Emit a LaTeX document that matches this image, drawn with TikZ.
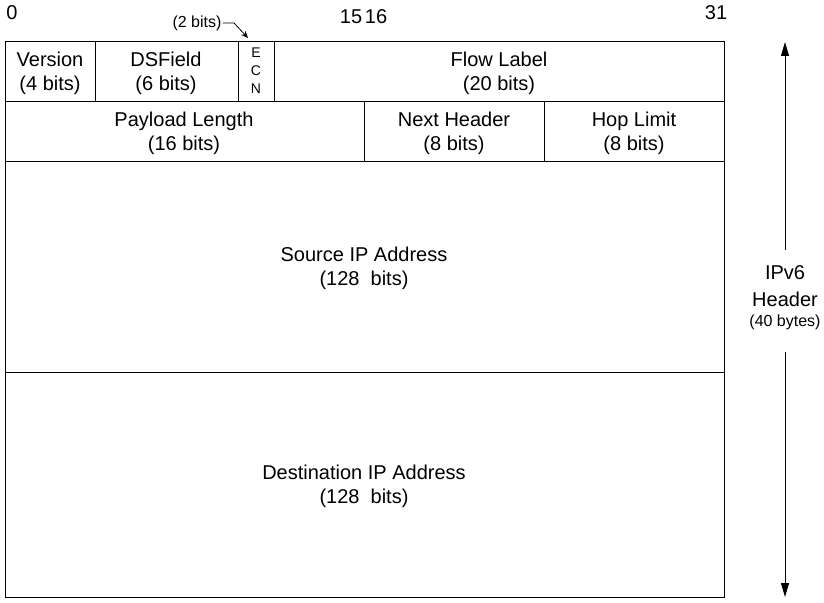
\documentclass[tikz,border=0pt]{standalone}
\usepackage{fontspec}
\setmainfont{Liberation Sans}
\usetikzlibrary{arrows.meta}
\tikzset{
  lbl/.style={align=center, inner sep=1pt, font=\fontsize{20}{24}\selectfont},
  small/.style={inner sep=1pt, font=\fontsize{16}{18}\selectfont},
  tiny/.style={inner sep=0pt, font=\fontsize{14}{18}\selectfont, align=center},
  frame/.style={line width=1pt},
}
\begin{document}
\begin{tikzpicture}[x=1pt,y=-1pt]
\useasboundingbox (0,0) rectangle (824,602);
% boxes
\draw[frame] (5,42) rectangle (724,597);
\draw[frame] (5,101) -- (724,101);
\draw[frame] (5,161) -- (724,161);
\draw[frame] (5,372) -- (724,372);
\draw[frame] (95,42) -- (95,101);
\draw[frame] (238,42) -- (238,101);
\draw[frame] (274,42) -- (274,101);
\draw[frame] (364,101) -- (364,161);
\draw[frame] (544,101) -- (544,161);
% labels
\node[lbl] (ver) at (50,73) {Version\\(4 bits)};
\node[lbl] (ds) at (166,73) {DSField\\(6 bits)};
\node[tiny] (ecn) at (256,71) {E\\C\\N};
\node[lbl] (flow) at (499,73) {Flow Label\\(20 bits)};
\node[lbl] (pay) at (184,133) {Payload Length\\(16 bits)};
\node[lbl] (next) at (454,133) {Next Header\\(8 bits)};
\node[lbl] (hop) at (634,133) {Hop Limit\\(8 bits)};
\node[lbl] (src) at (364,268) {Source IP Address\\(128~ bits)};
\node[lbl] (dst) at (364,486) {Destination IP Address\\(128~ bits)};
% bit numbers
\node[lbl] (b0) at (12,13) {0};
\node[lbl] (b15) at (351,17) {15};
\node[lbl] (b16) at (376,17) {16};
\node[lbl] (b31) at (716,13) {31};
% 2 bits
\node[small] (two) at (197,23) {(2 bits)};
\coordinate (bend) at (234,23);
\coordinate (tip) at (248,38);
\draw[line width=0.8pt, -{Stealth[length=7pt,width=6pt]}] (two.east) -- (bend) -- (tip);
% side arrow
\node[lbl] (ipv6) at (785,273) {IPv6};
\node[lbl] (hdr) at (785,299) {Header};
\node[small] (bytes) at (785,322) {(40 bytes)};
\coordinate (top) at (785,42);
\coordinate (bot) at (785,597);
\draw[frame, -{Triangle[length=14pt,width=8pt]}] (ipv6.north |- 0,250) -- (top);
\draw[frame, -{Triangle[length=14pt,width=8pt]}] (bytes.south |- 0,352) -- (bot);
\end{tikzpicture}
\end{document}
